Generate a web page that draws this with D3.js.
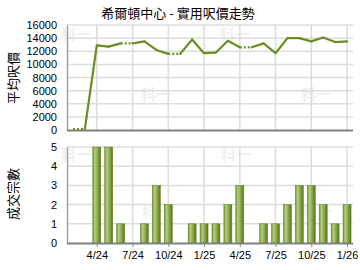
<!DOCTYPE html>
<html><head><meta charset="utf-8">
<script src="https://cdn.jsdelivr.net/npm/d3@7"></script>
<style>body{margin:0;background:#fff}svg{display:block}text{font-family:"Liberation Sans",Arial,sans-serif}</style>
</head><body>
<svg id="c" width="360" height="270"></svg>
<script>
const months = ["2/24","3/24","4/24","5/24","6/24","7/24","8/24","9/24","10/24","11/24","12/24","1/25","2/25","3/25","4/25","5/25","6/25","7/25","8/25","9/25","10/25","11/25","12/25","1/26"];
const prices = [0,0,12900,12700,13200,13200,13500,12200,11600,11600,13800,11700,11800,13600,12600,12600,13200,11700,14000,14000,13500,14100,13400,13500];
const dottedInto = ["3/24","7/24","11/24","5/25"];
const counts = [0,0,5,5,1,0,1,3,2,0,1,1,1,2,3,0,1,1,2,3,3,2,1,2];
const tickMonths = ["4/24","7/24","10/24","1/25","4/25","7/25","10/25","1/26"];
const priceTicks = [0,2000,4000,6000,8000,10000,12000,14000,16000];
const countTicks = [0,1,2,3,4,5];
const title = "希爾頓中心 - 實用呎價走勢";
const yLabelTop = "平均呎價";
const yLabelBottom = "成交宗數";

const svg = d3.select("#c");
const L = 67, R = 353;
const x = d3.scalePoint().domain(months).range([L, R]).padding(0.5);
const yP = d3.scaleLinear().domain([0,16000]).range([130,25]);
const yC = d3.scaleLinear().domain([0,5]).range([243,147]);
const green = "#6b8e23";

const defs = svg.append("defs");
const g = defs.append("linearGradient").attr("id","bar").attr("x1","0").attr("x2","1").attr("y1","0").attr("y2","0");
[[0,"#6f8f30"],[0.25,"#b4cc84"],[0.45,"#a0bb68"],[0.7,"#7c9c3a"],[1,"#577714"]].forEach(([o,c])=>g.append("stop").attr("offset",o).attr("stop-color",c));

// watermarks
const wm = [[76,40],[156,100],[235,40],[316,100],[76,160],[157,217],[236,160],[317,217]];
svg.append("g").selectAll("text").data(wm).join("text")
  .attr("x",d=>d[0]).attr("y",d=>d[1]).attr("text-anchor","middle")
  .attr("font-size",15).attr("font-weight","bold").attr("fill","#f0f0f0")
  .style("font-family","'Noto Sans CJK TC',sans-serif").text("科一");

function grid(yScale, ticks, top, bottom){
  const gg = svg.append("g");
  gg.selectAll("line.h").data(ticks.slice(1)).join("line")
    .attr("x1",L).attr("x2",R).attr("y1",d=>yScale(d)).attr("y2",d=>yScale(d))
    .attr("stroke","#dcdcdc").attr("stroke-width",1.5);
  gg.selectAll("line.v").data(tickMonths).join("line")
    .attr("x1",d=>x(d)).attr("x2",d=>x(d)).attr("y1",top).attr("y2",bottom)
    .attr("stroke","#dcdcdc").attr("stroke-width",1.5);
}
grid(yP, priceTicks, 25, 130);
grid(yC, countTicks, 147, 243);

// axes
const axTop = svg.append("g").attr("transform",`translate(${L},0)`)
  .call(d3.axisLeft(yP).tickValues(priceTicks).tickSize(0).tickPadding(10).tickFormat(d3.format("d")));
const axBot = svg.append("g").attr("transform",`translate(${L},0)`)
  .call(d3.axisLeft(yC).tickValues(countTicks).tickSize(0).tickPadding(10).tickFormat(d3.format("d")));
[axTop,axBot].forEach(a=>{a.select(".domain").attr("stroke","#a0a0a0").attr("stroke-width",1.5);
  a.selectAll("text").attr("font-size",11).attr("fill","#000").style("font-family","'Liberation Sans',Arial,sans-serif");});

const xAx = svg.append("g").attr("transform","translate(0,243)")
  .call(d3.axisBottom(x).tickValues(tickMonths).tickSize(4).tickPadding(4));
xAx.select(".domain").remove();
xAx.selectAll("line").attr("stroke","#888");
xAx.selectAll("text").attr("font-size",11).attr("fill","#000").style("font-family","'Liberation Sans',Arial,sans-serif");

// bars
const bw = 8;
svg.append("g").selectAll("rect").data(months.map((m,i)=>({m,v:counts[i]})).filter(d=>d.v>0)).join("rect")
  .attr("x",d=>x(d.m)-bw/2).attr("width",bw)
  .attr("y",d=>yC(d.v)).attr("height",d=>yC(0)-yC(d.v))
  .attr("fill","url(#bar)").attr("stroke","#5d7d1c").attr("stroke-width",0.5);

// baselines
svg.append("line").attr("x1",L).attr("x2",R).attr("y1",130.5).attr("y2",130.5).attr("stroke","#808080").attr("stroke-width",2);
svg.append("line").attr("x1",L).attr("x2",R).attr("y1",243.5).attr("y2",243.5).attr("stroke","#808080").attr("stroke-width",2);

// price line segments
const segs = [];
for(let i=1;i<months.length;i++){
  segs.push({a:i-1,b:i,dot:dottedInto.includes(months[i])});
}
const py = v => Math.min(yP(v), 129);
svg.append("g").selectAll("line").data(segs).join("line")
  .attr("x1",d=>x(months[d.a])).attr("y1",d=>py(prices[d.a]))
  .attr("x2",d=>x(months[d.b])).attr("y2",d=>py(prices[d.b]))
  .attr("stroke",green).attr("stroke-width",2.2).attr("stroke-linecap","butt")
  .attr("stroke-dasharray",d=>d.dot?"2,2":null);
svg.append("g").selectAll("circle").data(prices.map((v,i)=>({v,i})).filter(d=>!(dottedInto.includes(months[d.i]) && (d.i+1>=months.length || dottedInto.includes(months[d.i+1])))))
  .join("circle").attr("cx",d=>x(months[d.i])).attr("cy",d=>py(d.v)).attr("r",1.1).attr("fill",green)
  .attr("opacity",d=>(d.i===0)?0:1);

// title & labels
svg.append("text").attr("x",178).attr("y",18).attr("text-anchor","middle").attr("font-size",13)
  .style("font-family","'Noto Sans CJK TC',sans-serif").text(title);
svg.append("text").attr("transform","translate(18,78) rotate(-90)").attr("text-anchor","middle").attr("font-size",13)
  .style("font-family","'Noto Sans CJK TC',sans-serif").text(yLabelTop);
svg.append("text").attr("transform","translate(18,194) rotate(-90)").attr("text-anchor","middle").attr("font-size",13)
  .style("font-family","'Noto Sans CJK TC',sans-serif").text(yLabelBottom);
</script>
</body></html>
